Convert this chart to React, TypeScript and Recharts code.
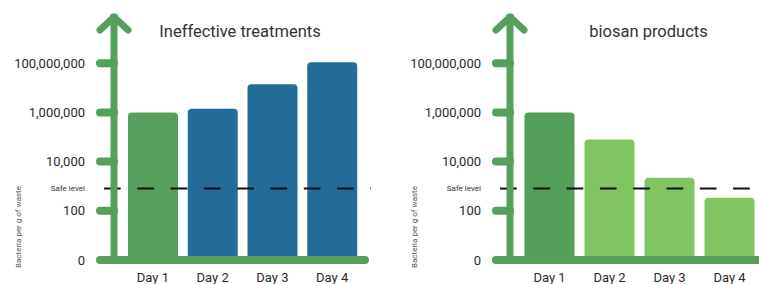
import React from 'react';
import { BarChart, Bar, XAxis, YAxis, Cell, ReferenceLine, Label } from 'recharts';

const days = ['Day 1', 'Day 2', 'Day 3', 'Day 4'];
const ineffectiveValues = [1000000, 1400000, 14000000, 110000000];
const biosanValues = [1000000, 80000, 2200, 340];
const yTicks = [1, 100, 10000, 1000000, 100000000, 10000000000];
const safeLevel = 800;
const leftTitle = 'Ineffective treatments';
const rightTitle = 'biosan products';
const yAxisTitle = 'Bacteria per g of waste';
const safeLabel = 'Safe level';

const GREEN = '#55a05a';
const BLUE = '#236c99';
const DARK_GREEN = '#529f58';
const LIGHT_GREEN = '#81c462';
const FONT = 'Roboto, "DejaVu Sans", sans-serif';

const formatTick = (v: number) => (v === 1 ? '0' : v.toLocaleString('en-US'));

const YTick = (props: any) => {
  const { x, y, payload } = props;
  const ax = x + 29;
  const v = payload.value;
  if (v >= 1e10) {
    return (
      <polyline
        points={`${ax - 14},${y + 16} ${ax},${y + 3} ${ax + 14},${y + 16}`}
        fill="none"
        stroke={GREEN}
        strokeWidth={7}
        strokeLinecap="round"
        strokeLinejoin="round"
      />
    );
  }
  return (
    <g>
      <line x1={ax - 14} y1={y} x2={ax} y2={y} stroke={GREEN} strokeWidth={8} strokeLinecap="round" />
      <text x={x} y={y} dy="0.355em" textAnchor="end" fontSize={13} fill="#2a2a2a" fontFamily={FONT}>
        {formatTick(v)}
      </text>
    </g>
  );
};

const AxisTitle = (props: any) => {
  const vb = props.viewBox || { x: 0, y: 0, width: 0, height: 0 };
  const cx = vb.x + 18;
  const cy = vb.y + vb.height - 33;
  return (
    <text
      x={cx}
      y={cy}
      transform={`rotate(-90 ${cx} ${cy})`}
      textAnchor="middle"
      dominantBaseline="central"
      fontSize={8}
      fill="#555"
      fontFamily={FONT}
    >
      {yAxisTitle}
    </text>
  );
};

const DashedShape = (props: any) => {
  const { x1, y1, x2, y2 } = props;
  return (
    <line x1={x1 - 10} y1={y1} x2={x2 + 6} y2={y2} stroke="#111" strokeWidth={2} strokeDasharray="16.7 16.6" />
  );
};

type PanelProps = {
  values: number[];
  colors: string[];
  width: number;
  marginRight: number;
  padLeft: number;
  padRight: number;
};

const Panel = ({ values, colors, width, marginRight, padLeft, padRight }: PanelProps) => {
  const data = days.map((d, i) => ({ day: d, value: values[i] }));
  return (
    <BarChart width={width} height={284} data={data} margin={{ top: 14, right: marginRight, bottom: 0, left: 0 }}>
      <Bar dataKey="value" barSize={50} radius={[4, 4, 0, 0]} isAnimationActive={false}>
        {data.map((_, i) => (
          <Cell key={i} fill={colors[i]} />
        ))}
      </Bar>
      <ReferenceLine
        y={safeLevel}
        shape={DashedShape}
        label={{ value: safeLabel, position: 'left', offset: 29, fontSize: 8, fill: '#333', fontFamily: FONT }}
      />
      <XAxis
        dataKey="day"
        height={24}
        padding={{ left: padLeft, right: padRight }}
        tickLine={false}
        tickSize={0}
        tickMargin={13}
        axisLine={{ stroke: GREEN, strokeWidth: 8, strokeLinecap: 'round' }}
        tick={{ fontSize: 13, fill: '#2a2a2a', fontFamily: FONT }}
        interval={0}
      />
      <YAxis
        type="number"
        scale="log"
        domain={[1, 10000000000]}
        allowDataOverflow
        ticks={yTicks}
        interval={0}
        width={114}
        tickSize={14}
        tickMargin={15}
        tickLine={false}
        axisLine={{ stroke: GREEN, strokeWidth: 7 }}
        tick={YTick}
      >
        <Label content={AxisTitle} />
      </YAxis>
    </BarChart>
  );
};

export default function App() {
  return (
    <div style={{ position: 'absolute', left: 0, top: 0, width: 759, height: 284, overflow: 'hidden', background: '#fff' }}>
      <div style={{ position: 'absolute', left: 0, top: 0 }}>
        <Panel values={ineffectiveValues} colors={[GREEN, BLUE, BLUE, BLUE]} width={396} marginRight={31} padLeft={9} padRight={3} />
      </div>
      <div style={{ position: 'absolute', left: 396, top: 0 }}>
        <Panel values={biosanValues} colors={[DARK_GREEN, LIGHT_GREEN, LIGHT_GREEN, LIGHT_GREEN]} width={400} marginRight={9} padLeft={9.5} padRight={27.5} />
      </div>
      <div style={{ position: 'absolute', left: 140, top: 22, width: 200, textAlign: 'center', fontFamily: FONT, fontSize: 16.5, color: '#333', lineHeight: 'normal', whiteSpace: 'nowrap' }}>
        {leftTitle}
      </div>
      <div style={{ position: 'absolute', left: 548.5, top: 22, width: 200, textAlign: 'center', fontFamily: FONT, fontSize: 16.5, color: '#333', lineHeight: 'normal', whiteSpace: 'nowrap' }}>
        {rightTitle}
      </div>
    </div>
  );
}
